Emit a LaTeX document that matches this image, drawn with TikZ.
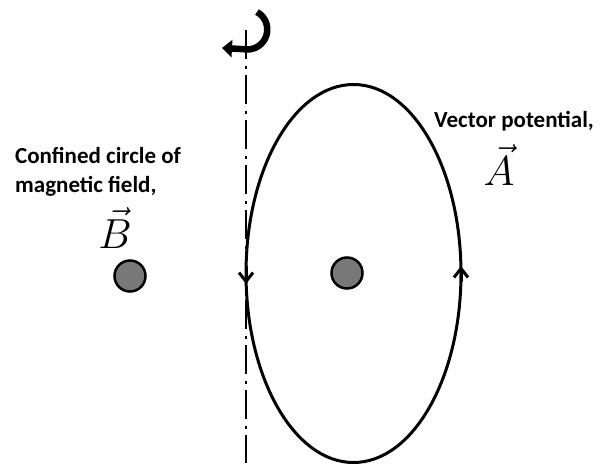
\documentclass[tikz,border=0pt]{standalone}
\usepackage{fix-cm}
\usepackage{fontspec}
\setmainfont{Carlito}
\usetikzlibrary{arrows.meta}
\begin{document}
\begin{tikzpicture}[x=1pt,y=-1pt,
  lbl/.style={font=\bfseries\fontsize{23}{29}\selectfont, inner sep=0pt, anchor=base west},
  vlbl/.style={font=\fontsize{42}{42}\selectfont, inner sep=0pt, anchor=base},
  dotnode/.style={circle, draw, line width=2.5pt, fill=black!53, minimum size=31pt, inner sep=0pt},
  loopline/.style={line width=3pt},
  axisline/.style={line width=2.5pt, dash pattern=on 29pt off 6.5pt on 3pt off 6.5pt},
  barb/.style={line width=3pt, -{Straight Barb[length=9pt,width=14pt]}},
  curl/.style={line width=6.5pt, -{Triangle[length=10pt,width=17pt]}}]
\useasboundingbox (0,0) rectangle (602,463);
% axis
\coordinate (axtop) at (246,30);
\coordinate (axbot) at (246,463);
\draw[axisline] (axtop) -- (axbot);
% rotation arrow
\coordinate (curlstart) at (257,12);
\coordinate (curlend) at (222,48);
\draw[curl] (curlstart) arc[start angle=61,end angle=-100,radius=20pt] -- (curlend);
% loop
\coordinate (lc) at (353.5,273.5);
\draw[loopline] (lc) ellipse [x radius=107.5pt, y radius=189pt];
\coordinate (la) at (246,266);
\coordinate (lb) at (246,284);
\coordinate (ra) at (461,282);
\coordinate (rb) at (461,266);
\draw[barb] (la) -- (lb);
\draw[barb] (ra) -- (rb);
% circles
\node[dotnode] (c1) at (130,276) {};
\node[dotnode] (c2) at (347,273) {};
% labels
\node[lbl] (t1) at (15,163) {Confined circle of};
\node[lbl] (t2) at (15,192) {magnetic field,};
\node[vlbl] (B) at (115,248) {$\vec{B}$};
\node[lbl] (t3) at (434,127) {Vector potential,};
\node[vlbl] (A) at (499,185) {$\vec{A}$};
\end{tikzpicture}
\end{document}
